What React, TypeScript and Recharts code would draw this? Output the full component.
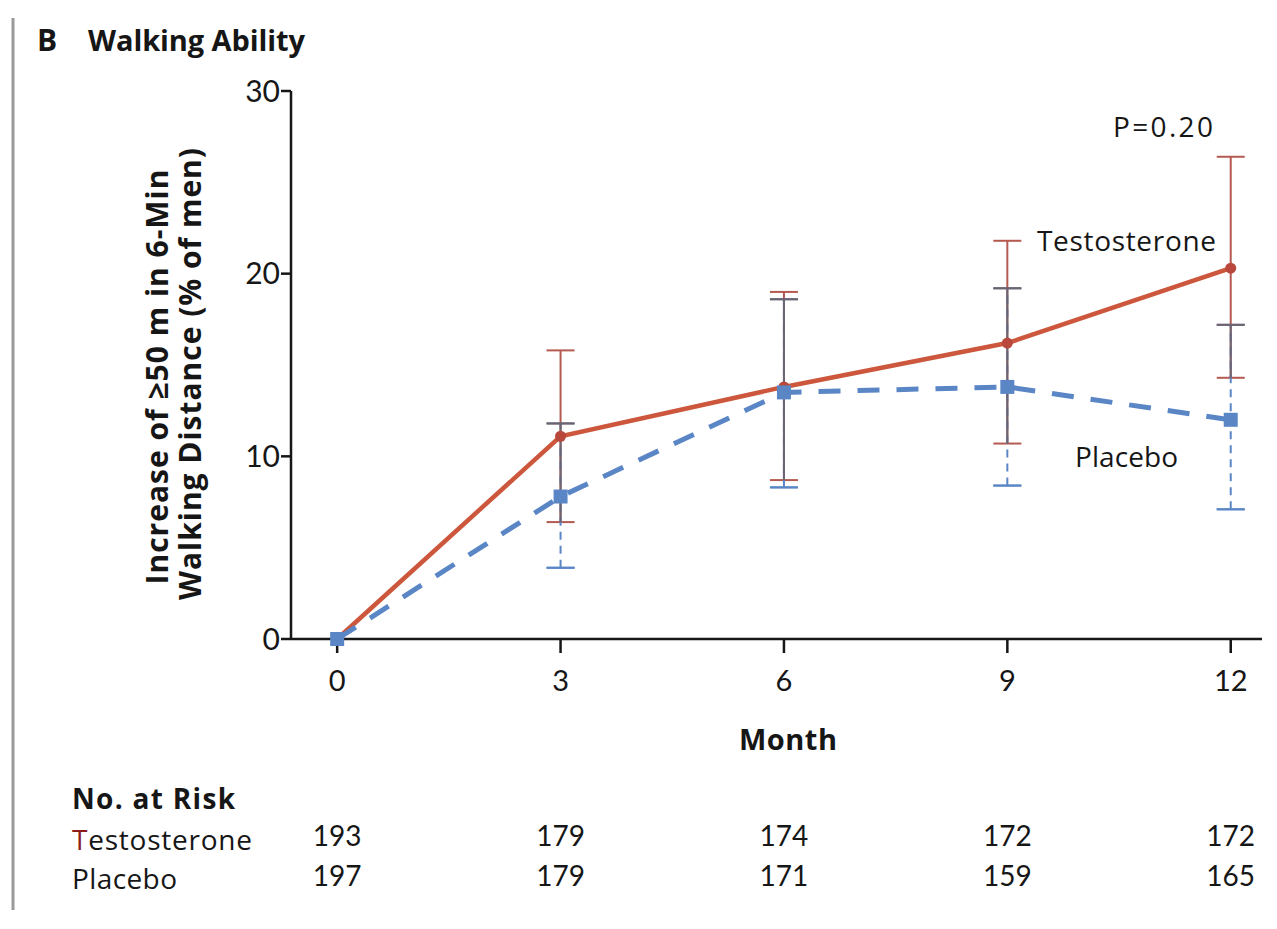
import { ComposedChart, ErrorBar, Line, XAxis, YAxis } from "recharts";

// Walking ability: % of men with >=50 m increase in 6-min walk distance
const MONTHS = [0, 3, 6, 9, 12];
const TESTO = [0, 11.1, 13.8, 16.2, 20.3];
const TESTO_LO = [null, 6.4, 8.7, 10.7, 14.3];
const TESTO_HI = [null, 15.8, 19.0, 21.8, 26.4];
const PLACEBO = [0, 7.8, 13.5, 13.8, 12.0];
const PLACEBO_LO = [null, 3.9, 8.3, 8.4, 7.1];
const PLACEBO_HI = [null, 11.8, 18.6, 19.2, 17.2];
const AT_RISK_TESTO = [193, 179, 174, 172, 172];
const AT_RISK_PLACEBO = [197, 179, 171, 159, 165];
const Y_TICKS = [0, 10, 20, 30];

const RED = "#cc573c";
const RED_DOT = "#b9473c";
const RED_BAR = "#b45a50";
const BLUE = "#5a86c6";
const GREY = "#6b6472";
const INK = "#161616";
const NUM_FONT = "Lato, 'Open Sans', sans-serif";
const TEXT_FONT = "'Open Sans', Lato, sans-serif";

type Bound = number | null;

const rows = MONTHS.map((m, i) => {
  const tLo = TESTO_LO[i] as Bound;
  const tHi = TESTO_HI[i] as Bound;
  const pLo = PLACEBO_LO[i] as Bound;
  const pHi = PLACEBO_HI[i] as Bound;
  const has = tLo != null && tHi != null && pLo != null && pHi != null;
  const oLo = has ? Math.max(tLo!, pLo!) : null;
  const oHi = has ? Math.min(tHi!, pHi!) : null;
  return {
    month: m,
    testo: TESTO[i],
    placebo: PLACEBO[i],
    testoErr: has ? [TESTO[i] - tLo!, tHi! - TESTO[i]] : null,
    placeboErr: has ? [PLACEBO[i] - pLo!, pHi! - PLACEBO[i]] : null,
    pLo,
    pHi,
    overlapLo: oLo,
    overlapErr: has ? [0, oHi! - oLo!] : null,
    cap: has ? [0, 0] : null,
  };
});

// month number under each tick, with the at-risk counts lined up below it
function MonthTick(props: any) {
  const { x, y, payload } = props;
  const i = MONTHS.indexOf(payload.value);
  return (
    <g fontFamily={NUM_FONT} fill={INK} textAnchor="middle">
      <text x={x} y={y + 38} fontSize={29}>
        {payload.value}
      </text>
      <text x={x} y={y + 193} fontSize={28}>
        {AT_RISK_TESTO[i]}
      </text>
      <text x={x} y={y + 233} fontSize={28}>
        {AT_RISK_PLACEBO[i]}
      </text>
    </g>
  );
}

function RedDot(props: any) {
  const { cx, cy, index } = props;
  if (cx == null || cy == null) return <g key={index} />;
  return <circle key={index} cx={cx} cy={cy} r={5.5} fill={RED_DOT} />;
}

function BlueSquare(props: any) {
  const { cx, cy, index } = props;
  if (cx == null || cy == null) return <g key={index} />;
  return <rect key={index} x={cx - 7} y={cy - 7} width={14} height={14} fill={BLUE} />;
}

const hidden = {
  stroke: "none",
  dot: false,
  activeDot: false,
  isAnimationActive: false,
  legendType: "none" as const,
};

export default function App() {
  return (
    <div style={{ position: "absolute", left: 0, top: 0, width: 1277, height: 929, background: "#fff" }}>
      <ComposedChart
        width={1277}
        height={929}
        data={rows}
        margin={{ top: 91, right: 15, bottom: 0, left: 211 }}
      >
        <XAxis
          type="number"
          dataKey="month"
          domain={[-0.62, 12.42]}
          ticks={MONTHS}
          allowDataOverflow
          height={290}
          tickSize={14}
          tickMargin={0}
          axisLine={{ stroke: INK, strokeWidth: 2.5 }}
          tickLine={{ stroke: INK, strokeWidth: 2.5 }}
          tick={<MonthTick />}
          interval={0}
        />
        <YAxis
          type="number"
          domain={[0, 30]}
          ticks={Y_TICKS}
          width={80}
          tickSize={10}
          tickMargin={1}
          axisLine={{ stroke: INK, strokeWidth: 2.5 }}
          tickLine={{ stroke: INK, strokeWidth: 2.5 }}
          tick={{ fontSize: 30, fill: INK, fontFamily: NUM_FONT }}
          interval={0}
        />

        {/* error bars go underneath the series lines */}
        <Line dataKey="testo" {...hidden}>
          <ErrorBar dataKey="testoErr" width={14} stroke={RED_BAR} strokeWidth={2} isAnimationActive={false} />
        </Line>
        <Line dataKey="placebo" {...hidden}>
          <ErrorBar
            dataKey="placeboErr"
            width={0}
            stroke={BLUE}
            strokeWidth={2}
            strokeDasharray="8 6"
            isAnimationActive={false}
          />
        </Line>
        <Line dataKey="pLo" {...hidden}>
          <ErrorBar dataKey="cap" width={14} stroke={BLUE} strokeWidth={2} isAnimationActive={false} />
        </Line>
        <Line dataKey="overlapLo" {...hidden}>
          <ErrorBar dataKey="overlapErr" width={0} stroke={GREY} strokeWidth={2} isAnimationActive={false} />
        </Line>
        <Line dataKey="pHi" {...hidden}>
          <ErrorBar dataKey="cap" width={14} stroke={GREY} strokeWidth={2} isAnimationActive={false} />
        </Line>

        <Line
          dataKey="testo"
          type="linear"
          stroke={RED}
          strokeWidth={4.5}
          dot={<RedDot />}
          activeDot={false}
          isAnimationActive={false}
        />
        <Line
          dataKey="placebo"
          type="linear"
          stroke={BLUE}
          strokeWidth={5}
          strokeDasharray="22 17"
          dot={<BlueSquare />}
          activeDot={false}
          isAnimationActive={false}
        />
      </ComposedChart>

      <svg
        width={1277}
        height={929}
        style={{ position: "absolute", left: 0, top: 0, pointerEvents: "none" }}
        fontFamily={TEXT_FONT}
        fill={INK}
      >
        <line x1={13} y1={18} x2={13} y2={910} stroke="#9a9a9a" strokeWidth={3} />
        <text x={37} y={51} fontSize={30} fontWeight={700}>
          B
        </text>
        <text x={88} y={51} fontSize={29} fontWeight={700} textLength={217}>
          Walking Ability
        </text>

        <g fontSize={30} fontWeight={700} textAnchor="middle" dominantBaseline="central">
          <text x={156} y={377} transform="rotate(-90 156 377)" textLength={415}>
            Increase of ≥50 m in 6-Min
          </text>
          <text x={189} y={374} transform="rotate(-90 189 374)" textLength={452}>
            Walking Distance (% of men)
          </text>
          <text x={788} y={738} fontSize={29} textLength={98}>
            Month
          </text>
        </g>

        <g fontSize={28} dominantBaseline="central">
          <text x={1113} y={126} textLength={100}>
            P=0.20
          </text>
          <text x={1037} y={240} textLength={179}>
            Testosterone
          </text>
          <text x={1075} y={456} textLength={103}>
            Placebo
          </text>
        </g>

        <text x={72} y={798} fontSize={28} fontWeight={700} dominantBaseline="central" textLength={163}>
          No. at Risk
        </text>
        <g fontSize={28} dominantBaseline="central">
          <text x={72} y={839} textLength={180}>
            <tspan fill="#8a1c1c">T</tspan>estosterone
          </text>
          <text x={72} y={878} textLength={105}>
            Placebo
          </text>
        </g>
      </svg>
    </div>
  );
}
